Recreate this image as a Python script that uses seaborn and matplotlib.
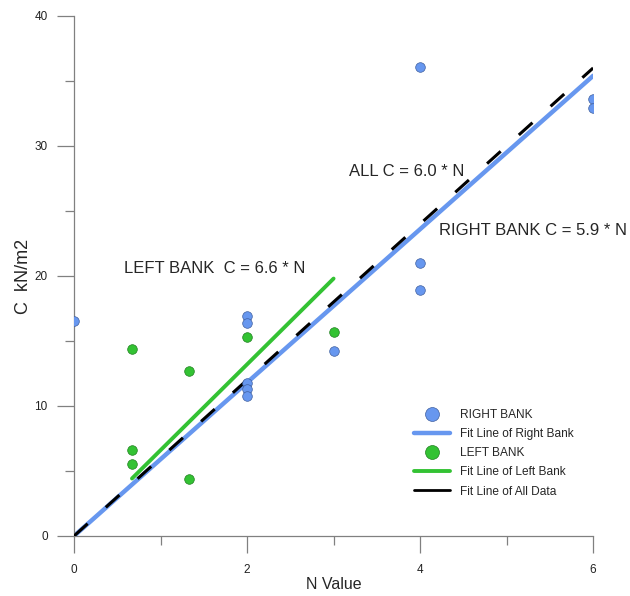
import pandas as pd
import numpy as np
import matplotlib
matplotlib.use("Agg")
import matplotlib.pyplot as plt
import seaborn as sns
from matplotlib.lines import Line2D

# data
right_n = [0, 2, 2, 2, 2, 2, 3, 4, 4, 4, 6, 6]
right_c = [16.5, 16.9, 16.4, 11.8, 11.3, 10.8, 14.2, 36.1, 21.0, 18.9, 33.6, 32.9]
left_n = [0.67, 0.67, 0.67, 1.33, 1.33, 2, 3]
left_c = [14.4, 6.6, 5.5, 12.7, 4.4, 15.3, 15.7]

# fit slopes and ranges
slope_right, slope_left, slope_all = 5.9, 6.6, 6.0
right_range = [0, 6]
left_range = [0.67, 3]
all_range = [0, 6]

blue = "#6797EF"
green = "#33C233"

sns.set_style("white")
plt.rcParams['font.family'] = ['Liberation Sans', 'DejaVu Sans']

right_df = pd.DataFrame({"N": right_n, "C": right_c})
left_df = pd.DataFrame({"N": left_n, "C": left_c})
fit_right = pd.DataFrame({"N": right_range, "C": [slope_right * n for n in right_range]})
fit_left = pd.DataFrame({"N": left_range, "C": [slope_left * n for n in left_range]})
fit_all = pd.DataFrame({"N": all_range, "C": [slope_all * n for n in all_range]})

fig = plt.figure(figsize=(6.3, 5.96), dpi=100)
ax = fig.add_axes([0.1175, 0.1007, 0.824, 0.8725])

sns.lineplot(data=fit_right, x="N", y="C", color=blue, lw=3.2, ax=ax, zorder=2)
sns.lineplot(data=fit_left, x="N", y="C", color=green, lw=2.8, ax=ax, zorder=2)
sns.lineplot(data=fit_all, x="N", y="C", color="black", lw=2.2, ax=ax, zorder=3)
ax.lines[-1].set_dashes((6, 8))
sns.scatterplot(data=right_df, x="N", y="C", color=blue, s=48, edgecolor="#3F5F9F",
                linewidth=0.5, ax=ax, zorder=4)
sns.scatterplot(data=left_df, x="N", y="C", color=green, s=48, edgecolor="#1F7F1F",
                linewidth=0.5, ax=ax, zorder=4)

ax.set_xlim(0, 6)
ax.set_ylim(0, 40)
ax.set_xticks([0, 2, 4, 6])
ax.set_xticks([1, 3, 5], minor=True)
ax.set_yticks([0, 10, 20, 30, 40])
ax.set_yticks([5, 15, 25, 35], minor=True)
for s in ["top", "right"]:
    ax.spines[s].set_visible(False)
for s in ["left", "bottom"]:
    ax.spines[s].set_color("#808080")
    ax.spines[s].set_linewidth(0.9)
ax.tick_params(which="major", length=12, width=0.9, color="#808080", labelsize=8.5,
               labelcolor="#222222", bottom=True, left=True)
ax.tick_params(which="minor", length=6.5, width=0.9, color="#808080", bottom=True, left=True)
ax.tick_params(axis="x", pad=8)
ax.tick_params(axis="y", pad=7)

ax.set_xlabel("N Value", fontsize=11.5, labelpad=1)
ax.set_ylabel("C  kN/m2", fontsize=13, labelpad=2)

ax.text(0.58, 20.6, "LEFT BANK  C = 6.6 * N", fontsize=12, va="center")
ax.text(3.18, 28.0, "ALL C = 6.0 * N", fontsize=12, va="center")
ax.text(4.22, 23.5, "RIGHT BANK C = 5.9 * N", fontsize=12, va="center")

handles = [
    Line2D([], [], ls="none", marker="o", markersize=10, color=blue, markeredgecolor="#3F5F9F", markeredgewidth=0.5),
    Line2D([], [], color=blue, lw=3.2),
    Line2D([], [], ls="none", marker="o", markersize=10, color=green, markeredgecolor="#1F7F1F", markeredgewidth=0.5),
    Line2D([], [], color=green, lw=2.8),
    Line2D([], [], color="black", lw=2.0),
]
labels = ["RIGHT BANK", "Fit Line of Right Bank", "LEFT BANK", "Fit Line of Left Bank", "Fit Line of All Data"]
ax.legend(handles, labels, loc="upper left", bbox_to_anchor=(0.635, 0.265), frameon=False,
          fontsize=8.6, handlelength=3.0, labelspacing=0.6, handletextpad=0.8)

fig.savefig("out.png", dpi=100)
